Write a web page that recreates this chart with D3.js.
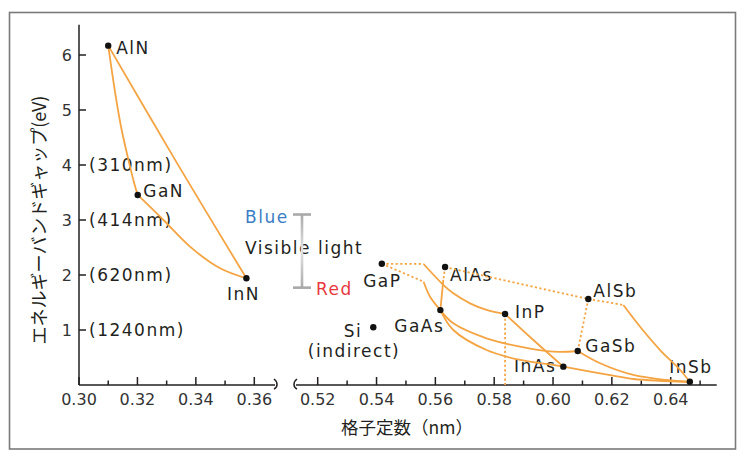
<!DOCTYPE html>
<html>
<head>
<meta charset="utf-8">
<script src="https://cdn.jsdelivr.net/npm/d3@7"></script>
<style>
  html, body { margin: 0; padding: 0; background: #fff; }
  svg { display: block; }
</style>
</head>
<body>
<svg id="chart" width="744" height="460"></svg>
<script>
// ---------------- DATA ----------------
// Nitrides (left panel): lattice constant (nm), band gap (eV)
const leftNames = ["AlN", "GaN", "InN"];
const leftA     = [0.310, 0.3201, 0.3573];
const leftEg    = [6.17, 3.455, 1.94];

// III-V compounds (right panel)
const rightNames = ["GaP", "AlAs", "GaAs", "InP", "Si", "AlSb", "GaSb", "InAs", "InSb"];
const rightA     = [0.5418, 0.5633, 0.5617, 0.5837, 0.5389, 0.6120, 0.6084, 0.6035, 0.6465];
const rightEg    = [2.204, 2.145, 1.362, 1.29, 1.049, 1.564, 0.618, 0.334, 0.058];

// Alloy curves: [lattice constant, band gap]
const curveAlGaN = [[0.310, 6.17], [0.3126, 5.24], [0.3146, 4.64], [0.3172, 4.03], [0.3189, 3.67], [0.3201, 3.455]];
const curveInGaN = [[0.3201, 3.455], [0.3289, 3.0], [0.3380, 2.515], [0.3483, 2.122], [0.3573, 1.94]];
const curveAlInN = [[0.310, 6.17], [0.3336, 4.03], [0.3573, 1.94]];

const solidRight = [
  [[0.5560, 2.200], [0.5625, 1.831], [0.5661, 1.667], [0.5718, 1.485], [0.5774, 1.364], [0.5837, 1.29]],   // GaInP
  [[0.5560, 1.878], [0.5582, 1.605], [0.5617, 1.362]],                                                    // GaAsP
  [[0.5627, 1.91], [0.5617, 1.362]],                                                                      // AlGaAs
  [[0.6239, 1.455], [0.6296, 1.06], [0.6364, 0.636], [0.6432, 0.273], [0.6465, 0.058]],                   // AlInSb
  [[0.5617, 1.362], [0.5661, 1.122], [0.5774, 0.849], [0.5888, 0.696], [0.6001, 0.605], [0.6084, 0.618]],  // GaAsSb
  [[0.5617, 1.362], [0.5661, 1.0], [0.5774, 0.636], [0.5888, 0.455], [0.6001, 0.364], [0.6035, 0.334]],    // InGaAs
  [[0.5837, 1.29], [0.5933, 0.818], [0.6035, 0.334]],                                                     // InAsP
  [[0.6035, 0.334], [0.616, 0.213], [0.6273, 0.109], [0.6465, 0.058]],                                    // InAsSb
  [[0.6084, 0.618], [0.616, 0.395], [0.6273, 0.182], [0.6386, 0.091], [0.6465, 0.058]]                    // GaInSb
];
const dottedRight = [
  [[0.5418, 2.204], [0.5560, 2.200]],   // GaP -> GaInP (indirect)
  [[0.5418, 2.204], [0.5560, 1.878]],   // GaP -> GaAsP (indirect)
  [[0.5633, 2.145], [0.5627, 1.91]],    // AlAs -> AlGaAs (indirect)
  [[0.5633, 2.145], [0.6120, 1.564]],   // AlAs - AlSb
  [[0.6120, 1.564], [0.6239, 1.455]],   // AlSb -> AlInSb
  [[0.6120, 1.564], [0.6084, 0.618]],   // AlSb - GaSb
  [[0.5837, 1.29], [0.5837, 0]]         // InP drop line
];

const yTicks = [1, 2, 3, 4, 5, 6];
const leftMajor = [0.30, 0.32, 0.34, 0.36];
const leftMinor = [0.31, 0.33, 0.35];
const rightMajor = [0.52, 0.54, 0.56, 0.58, 0.60, 0.62, 0.64];
const rightMinor = [0.53, 0.55, 0.57, 0.59, 0.61, 0.63, 0.65];
const wavelengthLabels = [[4, "(310nm)"], [3, "(414nm)"], [2, "(620nm)"], [1, "(1240nm)"]];
const visibleRange = [1.77, 3.1];   // Red .. Blue (eV)

// ---------------- LAYOUT ----------------
const svg = d3.select("#chart");
const ORANGE = "#f4a442";
const INK = "#231f20";
const FONT = "'DejaVu Sans', sans-serif";
const CJK = "'Noto Sans CJK JP', sans-serif";

const y  = d3.scaleLinear().domain([0, 6]).range([385, 55]);
const xL = d3.scaleLinear().domain([0.30, 0.36]).range([79, 254.3]);
const xR = d3.scaleLinear().domain([0.52, 0.64]).range([317.7, 670.7]);

// frame
svg.append("rect").attr("x", 9.5).attr("y", 12.5).attr("width", 726).attr("height", 436.5)
  .attr("fill", "none").attr("stroke", "#7a7a7a").attr("stroke-width", 1.6);

const axisG = svg.append("g").attr("stroke", INK).attr("stroke-width", 1.5).attr("fill", "none");
// y axis
axisG.append("line").attr("x1", 79).attr("x2", 79).attr("y1", y(6.55)).attr("y2", y(0));
yTicks.forEach(v => axisG.append("line").attr("x1", 79).attr("x2", 86).attr("y1", y(v)).attr("y2", y(v)));
// x axis segments
const leftEnd = 275, rightStart = 296, rightEnd = 716.7;
axisG.append("line").attr("x1", 79).attr("x2", leftEnd).attr("y1", y(0)).attr("y2", y(0));
axisG.append("line").attr("x1", rightStart).attr("x2", rightEnd).attr("y1", y(0)).attr("y2", y(0));
// break marks
axisG.append("path").attr("d", `M${leftEnd - 1},${y(0) - 6} C${leftEnd + 3},${y(0) - 3} ${leftEnd + 3},${y(0) + 2} ${leftEnd - 1},${y(0) + 4}`);
axisG.append("path").attr("d", `M${rightStart + 1},${y(0) - 6} C${rightStart - 3},${y(0) - 3} ${rightStart - 3},${y(0) + 2} ${rightStart + 1},${y(0) + 4}`);
// x ticks
leftMajor.forEach(v => axisG.append("line").attr("x1", xL(v)).attr("x2", xL(v)).attr("y1", y(0)).attr("y2", y(0) - 8));
leftMinor.forEach(v => axisG.append("line").attr("x1", xL(v)).attr("x2", xL(v)).attr("y1", y(0)).attr("y2", y(0) - 4.5));
rightMajor.forEach(v => axisG.append("line").attr("x1", xR(v)).attr("x2", xR(v)).attr("y1", y(0)).attr("y2", y(0) - 8));
rightMinor.forEach(v => axisG.append("line").attr("x1", xR(v)).attr("x2", xR(v)).attr("y1", y(0)).attr("y2", y(0) - 4.5));

// tick labels
const tl = svg.append("g").attr("font-family", FONT).attr("font-size", 16).attr("fill", "#333");
yTicks.forEach(v => tl.append("text").attr("x", 72).attr("y", y(v) + 6).attr("text-anchor", "end").text(v));
leftMajor.forEach(v => tl.append("text").attr("x", xL(v)).attr("y", 405).attr("text-anchor", "middle").text(v.toFixed(2)));
rightMajor.forEach(v => tl.append("text").attr("x", xR(v)).attr("y", 405).attr("text-anchor", "middle").text(v.toFixed(2)));

// wavelength labels
const lab = svg.append("g").attr("font-family", FONT).attr("font-size", 17).attr("fill", INK)
  .attr("letter-spacing", "1.5px");
wavelengthLabels.forEach(([v, t]) => lab.append("text").attr("x", 89).attr("y", y(v) + 6.3).text(t));

// axis titles
svg.append("text").attr("transform", `translate(38,220) rotate(-90)`)
  .attr("text-anchor", "middle").attr("dominant-baseline", "central")
  .attr("font-family", CJK).attr("font-size", 18).attr("fill", INK)
  .text("エネルギーバンドギャップ(eV)");
svg.append("text").attr("x", 407).attr("y", 426)
  .attr("text-anchor", "middle").attr("dominant-baseline", "central")
  .attr("font-family", CJK).attr("font-size", 17.5).attr("fill", INK)
  .text("格子定数（nm）");

// curves
const lineL = d3.line().x(d => xL(d[0])).y(d => y(d[1])).curve(d3.curveCatmullRom.alpha(0.5));
const lineR = d3.line().x(d => xR(d[0])).y(d => y(d[1])).curve(d3.curveCatmullRom.alpha(0.5));
const straightR = d3.line().x(d => xR(d[0])).y(d => y(d[1]));
const cg = svg.append("g").attr("fill", "none").attr("stroke", ORANGE).attr("stroke-width", 1.8);
[curveAlGaN, curveInGaN, curveAlInN].forEach(c => cg.append("path").attr("d", lineL(c)));
solidRight.forEach(c => cg.append("path").attr("d", lineR(c)));
dottedRight.forEach(c => cg.append("path").attr("d", straightR(c)).attr("stroke-dasharray", "2.2,2.4"));

// visible light bar
const defs = svg.append("defs");
const grad = defs.append("linearGradient").attr("id", "vis").attr("x1", 0).attr("x2", 0).attr("y1", 0).attr("y2", 1);
grad.append("stop").attr("offset", "0%").attr("stop-color", "#a9a9a9");
grad.append("stop").attr("offset", "50%").attr("stop-color", "#e2e2e2");
grad.append("stop").attr("offset", "100%").attr("stop-color", "#a9a9a9");
const barX = 302;
svg.append("rect").attr("x", barX - 1.3).attr("y", y(visibleRange[1])).attr("width", 2.6)
  .attr("height", y(visibleRange[0]) - y(visibleRange[1])).attr("fill", "url(#vis)");
[visibleRange[0], visibleRange[1]].forEach(v => svg.append("line")
  .attr("x1", barX - 9).attr("x2", barX + 9).attr("y1", y(v)).attr("y2", y(v))
  .attr("stroke", "#a9a9a9").attr("stroke-width", 2.6));
lab.append("text").attr("x", 245).attr("y", 223).attr("fill", "#3b7dc4").text("Blue");
lab.append("text").attr("x", 245).attr("y", 254).text("Visible light");
lab.append("text").attr("x", 316).attr("y", 295).attr("fill", "#e8383d").text("Red");

// points and labels
const labelPos = {
  AlN: ["start", 8, 8.3], GaN: ["start", 5.5, 1.7], InN: ["middle", -3, 21.7],
  GaP: ["middle", 0.5, 23], AlAs: ["start", 5, 14], GaAs: ["end", 4, 21.6],
  InP: ["start", 10, 4.3], Si: ["end", -11, 9.4], AlSb: ["start", 5, -1.7],
  GaSb: ["start", 7.5, 0.7], InAs: ["end", -7, 5], InSb: ["middle", 1, -8.5]
};
const pg = svg.append("g");
function addPoint(name, px, py) {
  pg.append("circle").attr("cx", px).attr("cy", py).attr("r", 3.2).attr("fill", "#111");
  const [anc, dx, dy] = labelPos[name];
  lab.append("text").attr("x", px + dx).attr("y", py + dy).attr("text-anchor", anc).text(name);
}
leftNames.forEach((n, i) => addPoint(n, xL(leftA[i]), y(leftEg[i])));
rightNames.forEach((n, i) => addPoint(n, xR(rightA[i]), y(rightEg[i])));
lab.append("text").attr("x", 354).attr("y", 357).attr("text-anchor", "middle").text("(indirect)");
</script>
</body>
</html>
